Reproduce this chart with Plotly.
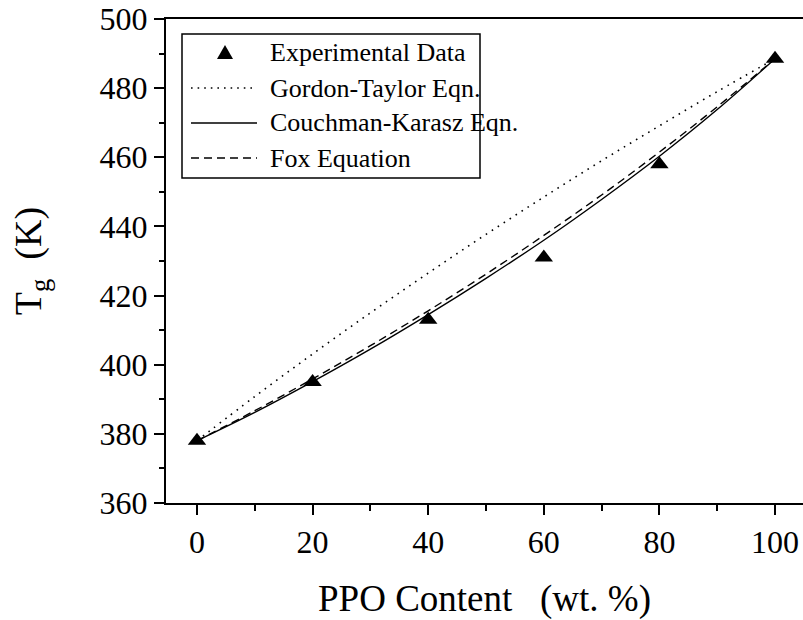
import plotly.graph_objects as go

# PPO content (wt. %) and measured glass transition temperatures (K)
ppo_exp = [0, 20, 40, 60, 80, 100]
tg_exp = [378, 395, 413, 431, 458, 488.5]

# Model curves sampled every 10 wt. %
ppo_fit = [0, 10, 20, 30, 40, 50, 60, 70, 80, 90, 100]
tg_gordon_taylor = [378, 390.8, 403.1, 415.0, 426.5, 437.7, 448.5, 459.0, 469.1, 479.0, 488.5]
tg_couchman_karasz = [378, 386.2, 395.1, 404.5, 414.5, 425.0, 436.0, 447.8, 460.3, 473.8, 488.5]
tg_fox = [378, 386.7, 395.9, 405.5, 415.6, 426.2, 437.4, 449.1, 461.5, 474.6, 488.5]

legend_labels = ["Experimental Data", "Gordon-Taylor Eqn.", "Couchman-Karasz Eqn.", "Fox Equation"]

FONT = "Times New Roman, Liberation Serif, serif"
W, H = 803, 620
ML, MR, MT, MB = 166, 0, 19, 117

fig = go.Figure()

fig.add_trace(go.Scatter(x=ppo_fit, y=tg_gordon_taylor, mode="lines", line_shape="spline",
                         line=dict(color="black", width=1.6, dash="1.6px,5.5px"), showlegend=False))
fig.add_trace(go.Scatter(x=ppo_fit, y=tg_couchman_karasz, mode="lines", line_shape="spline",
                         line=dict(color="black", width=1.4), showlegend=False))
fig.add_trace(go.Scatter(x=ppo_fit, y=tg_fox, mode="lines", line_shape="spline",
                         line=dict(color="black", width=1.4, dash="8px,5px"), showlegend=False))
fig.add_trace(go.Scatter(x=ppo_exp, y=tg_exp, mode="markers",
                         marker=dict(symbol="triangle-up", size=16, color="black"), showlegend=False))

# Hand-drawn legend box (pixel positions converted to paper coordinates)
pw, ph = W - ML - MR, H - MT - MB


def px(x):
    return (x - ML) / pw


def py(y):
    return (H - MB - y) / ph


shapes = [dict(type="rect", xref="paper", yref="paper", x0=px(182), x1=px(480), y0=py(178), y1=py(34),
               line=dict(color="black", width=1.5), fillcolor="white", layer="above")]
row_y = [53, 88, 123, 158]
dashes = [None, "1.6px,5px", "solid", "8px,5px"]
for ry, d in zip(row_y[1:], dashes[1:]):
    shapes.append(dict(type="line", xref="paper", yref="paper", x0=px(191), x1=px(257), y0=py(ry), y1=py(ry),
                       line=dict(color="black", width=1.4, dash=d), layer="above"))
# triangle symbol for the data row
tx, ty = 225, row_y[0]
shapes.append(dict(type="path", xref="paper", yref="paper",
                   path=f"M {px(tx - 8)},{py(ty + 6)} L {px(tx + 8)},{py(ty + 6)} L {px(tx)},{py(ty - 8)} Z",
                   fillcolor="black", line=dict(color="black", width=0), layer="above"))

annotations = []
for ry, lab in zip(row_y, legend_labels):
    annotations.append(dict(text=lab, xref="paper", yref="paper", x=px(268), y=py(ry), xanchor="left",
                            yanchor="middle", showarrow=False, font=dict(family=FONT, size=26, color="black")))

fig.update_layout(
    width=W, height=H,
    margin=dict(l=ML, r=MR, t=MT, b=MB),
    paper_bgcolor="white", plot_bgcolor="white",
    font=dict(family=FONT, color="black"),
    shapes=shapes, annotations=annotations,
)

fig.update_xaxes(
    range=[-5.36, 104.84], tickvals=[0, 20, 40, 60, 80, 100],
    showgrid=False, zeroline=False,
    showline=True, linecolor="black", linewidth=2, mirror=True,
    ticks="outside", ticklen=10, tickwidth=2, tickcolor="black",
    minor=dict(tickvals=[10, 30, 50, 70, 90], ticks="outside", ticklen=6, tickwidth=2, tickcolor="black"),
    tickfont=dict(family=FONT, size=32),
    title=dict(text="PPO Content&nbsp;&nbsp;&nbsp;(wt.&nbsp;%)", font=dict(family=FONT, size=37), standoff=28),
)
fig.update_yaxes(
    range=[360, 500], tickvals=[360, 380, 400, 420, 440, 460, 480, 500],
    showgrid=False, zeroline=False,
    showline=True, linecolor="black", linewidth=2, mirror=False,
    ticks="outside", ticklen=10, tickwidth=2, tickcolor="black",
    minor=dict(tickvals=[370, 390, 410, 430, 450, 470, 490], ticks="outside", ticklen=5, tickwidth=2,
               tickcolor="black"),
    tickfont=dict(family=FONT, size=32),
    title=dict(text="T<sub>g</sub>&nbsp;&nbsp;(K)", font=dict(family=FONT, size=38), standoff=46),
)

fig.write_html("out.html")
